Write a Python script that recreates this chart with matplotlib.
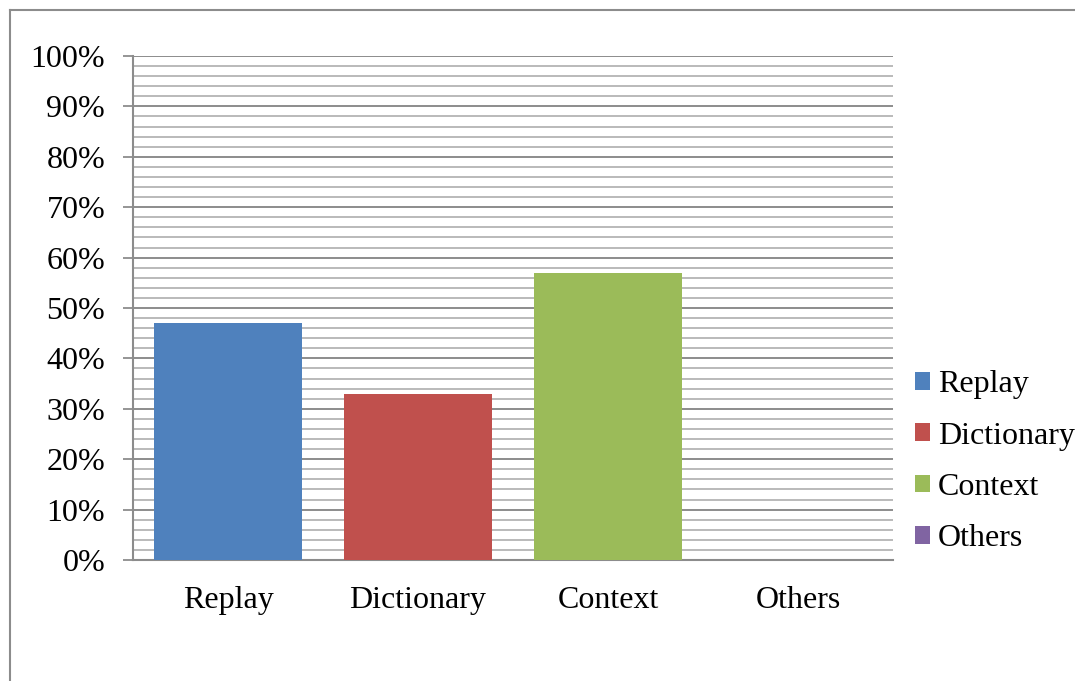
import numpy as np
import matplotlib.pyplot as plt
from matplotlib.lines import Line2D
from matplotlib.ticker import MultipleLocator, PercentFormatter

categories = ['Replay', 'Dictionary', 'Context', 'Others']
values = [0.47, 0.33, 0.57, 0.0]
colors = ['#4f81bd', '#c0504d', '#9bbb59', '#8064a2']

plt.rcParams['font.family'] = ['Liberation Serif', 'DejaVu Serif']

fig = plt.figure(figsize=(10.75, 6.81), dpi=100)
ax = fig.add_axes([0.1237, 0.1777, 0.707, 0.7401])

# outer frame (only top and left edges visible)
fig.add_artist(Line2D([0.0093, 1.0], [0.9853, 0.9853], color='#8c8c8c', lw=1.5,
                      transform=fig.transFigure))
fig.add_artist(Line2D([0.0093, 0.0093], [0.0, 0.9853], color='#8c8c8c', lw=1.5,
                      transform=fig.transFigure))

x = np.arange(len(categories))
for i in range(len(categories)):
    ax.bar(x[i], values[i], width=0.775, color=colors[i], label=categories[i], zorder=3)

ax.set_xlim(-0.5, len(categories) - 0.5)
ax.set_ylim(0, 1.0)
ax.yaxis.set_major_locator(MultipleLocator(0.1))
ax.yaxis.set_minor_locator(MultipleLocator(0.02))
ax.yaxis.set_major_formatter(PercentFormatter(1.0, decimals=0))

ax.grid(axis='y', which='major', color='#8c8c8c', lw=1.4, zorder=0)
ax.grid(axis='y', which='minor', color='#bababa', lw=1.4, zorder=0)
ax.set_axisbelow(True)

ax.set_xticks(x)
ax.set_xticklabels(categories)
ax.tick_params(axis='x', length=0, pad=19, labelsize=23)
ax.tick_params(axis='y', which='major', length=7, width=1.3, color='#8c8c8c',
               pad=13, labelsize=23)
ax.tick_params(axis='y', which='minor', length=0)

for side in ['top', 'right']:
    ax.spines[side].set_visible(False)
for side in ['left', 'bottom']:
    ax.spines[side].set_color('#8c8c8c')
    ax.spines[side].set_linewidth(1.5)

ax.legend(loc='center left', bbox_to_anchor=(1.029, 0.195), frameon=False,
          fontsize=23, handlelength=0.47, handleheight=0.47, handletextpad=0.25,
          labelspacing=0.7, borderpad=0, borderaxespad=0)

fig.savefig('out.png', dpi=100)
